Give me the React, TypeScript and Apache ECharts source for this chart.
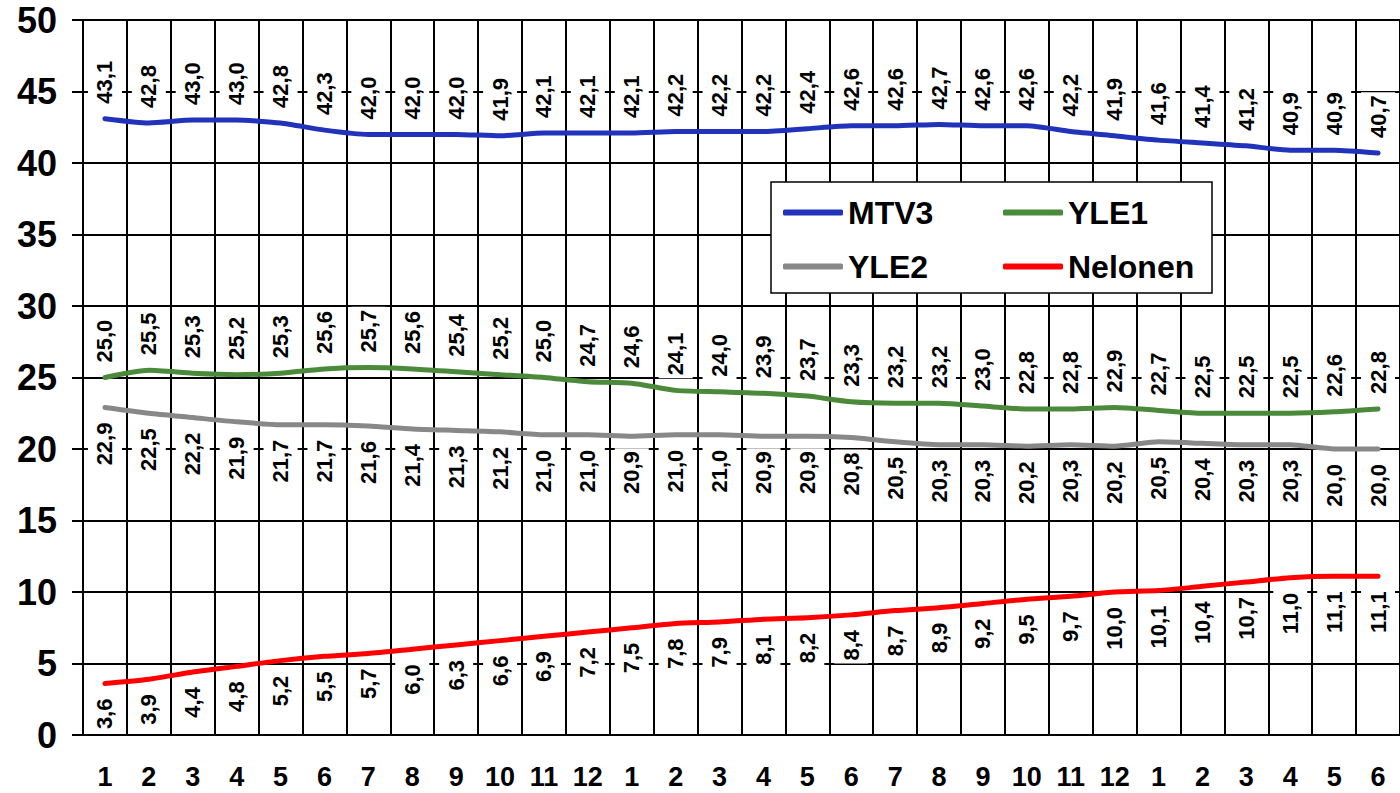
import React, { useEffect, useRef } from "react";
import * as echarts from "echarts";

// Month numbers along the bottom: Jan–Dec, Jan–Dec, Jan–Jun
const months: string[] = [
  "1", "2", "3", "4", "5", "6", "7", "8", "9", "10", "11", "12",
  "1", "2", "3", "4", "5", "6", "7", "8", "9", "10", "11", "12",
  "1", "2", "3", "4", "5", "6",
];

// Viewing share (%) per channel
const mtv3: number[] = [
  43.1, 42.8, 43.0, 43.0, 42.8, 42.3, 42.0, 42.0, 42.0, 41.9, 42.1, 42.1,
  42.1, 42.2, 42.2, 42.2, 42.4, 42.6, 42.6, 42.7, 42.6, 42.6, 42.2, 41.9,
  41.6, 41.4, 41.2, 40.9, 40.9, 40.7,
];
const yle1: number[] = [
  25.0, 25.5, 25.3, 25.2, 25.3, 25.6, 25.7, 25.6, 25.4, 25.2, 25.0, 24.7,
  24.6, 24.1, 24.0, 23.9, 23.7, 23.3, 23.2, 23.2, 23.0, 22.8, 22.8, 22.9,
  22.7, 22.5, 22.5, 22.5, 22.6, 22.8,
];
const yle2: number[] = [
  22.9, 22.5, 22.2, 21.9, 21.7, 21.7, 21.6, 21.4, 21.3, 21.2, 21.0, 21.0,
  20.9, 21.0, 21.0, 20.9, 20.9, 20.8, 20.5, 20.3, 20.3, 20.2, 20.3, 20.2,
  20.5, 20.4, 20.3, 20.3, 20.0, 20.0,
];
const nelonen: number[] = [
  3.6, 3.9, 4.4, 4.8, 5.2, 5.5, 5.7, 6.0, 6.3, 6.6, 6.9, 7.2,
  7.5, 7.8, 7.9, 8.1, 8.2, 8.4, 8.7, 8.9, 9.2, 9.5, 9.7, 10.0,
  10.1, 10.4, 10.7, 11.0, 11.1, 11.1,
];

const FONT = '"Liberation Sans", Arial, sans-serif';

const fmt = (v: number) => v.toFixed(1).replace(".", ",");

function makeSeries(name: string, data: number[], color: string, above: boolean) {
  return {
    name,
    type: "line",
    data,
    smooth: 0.2,
    symbol: "circle",
    symbolSize: 0.01,
    showSymbol: true,
    lineStyle: { color, width: 5, cap: "round", join: "round" },
    itemStyle: { color },
    z: 3,
    labelLayout: { hideOverlap: false },
    label: {
      show: true,
      position: above ? "top" : "bottom",
      rotate: 90,
      align: above ? "left" : "right",
      verticalAlign: "middle",
      distance: 12,
      formatter: (p: any) => fmt(p.value as number),
      color: "#000",
      fontFamily: FONT,
      fontWeight: "bold",
      fontSize: 22,
      backgroundColor: "#fff",
      padding: [6, 3, 6, 3],
    },
  };
}

export default function App() {
  const ref = useRef<HTMLDivElement>(null);

  useEffect(() => {
    if (!ref.current) return;
    const chart = echarts.init(ref.current, null, { renderer: "svg" });
    const CAT_W = 44.43;
    chart.setOption({
      animation: false,
      backgroundColor: "#fff",
      grid: { left: 83, top: 20, width: CAT_W * months.length, height: 715 },
      legend: {
        left: 771,
        top: 182,
        orient: "horizontal",
        width: 430,
        icon: "roundRect",
        itemWidth: 60,
        itemHeight: 6,
        itemGap: 15,
        padding: [11, 4, 7, 12],
        backgroundColor: "#fff",
        borderColor: "#000",
        borderWidth: 1.5,
        borderRadius: 0,
        z: 10,
        textStyle: {
          color: "#000",
          fontFamily: FONT,
          fontWeight: "bold",
          fontSize: 32,
          lineHeight: 39,
          width: 140,
        },
        data: ["MTV3", "YLE1", "YLE2", "Nelonen"],
      },
      xAxis: {
        type: "category",
        data: months,
        boundaryGap: true,
        axisLine: { show: true, lineStyle: { color: "#000", width: 2 } },
        axisTick: { show: false },
        axisLabel: {
          color: "#000",
          fontFamily: FONT,
          fontWeight: "bold",
          fontSize: 27,
          margin: 28,
          interval: 0,
        },
        splitLine: { show: true, lineStyle: { color: "#000", width: 2 } },
      },
      yAxis: {
        type: "value",
        min: 0,
        max: 50,
        interval: 5,
        axisLine: { show: true, lineStyle: { color: "#000", width: 2 } },
        axisTick: { show: true, length: 11, inside: false, lineStyle: { color: "#000", width: 2 } },
        axisLabel: {
          color: "#000",
          fontFamily: FONT,
          fontWeight: "bold",
          fontSize: 36,
          margin: 26,
        },
        splitLine: { show: true, lineStyle: { color: "#000", width: 2 } },
      },
      series: [
        makeSeries("MTV3", mtv3, "#2233bb", true),
        makeSeries("YLE1", yle1, "#4a8a3a", true),
        makeSeries("YLE2", yle2, "#888888", false),
        makeSeries("Nelonen", nelonen, "#ff0000", false),
      ],
    });
    return () => chart.dispose();
  }, []);

  return (
    <div
      ref={ref}
      style={{ position: "fixed", left: 0, top: 0, width: 1400, height: 793, overflow: "hidden" }}
    />
  );
}
